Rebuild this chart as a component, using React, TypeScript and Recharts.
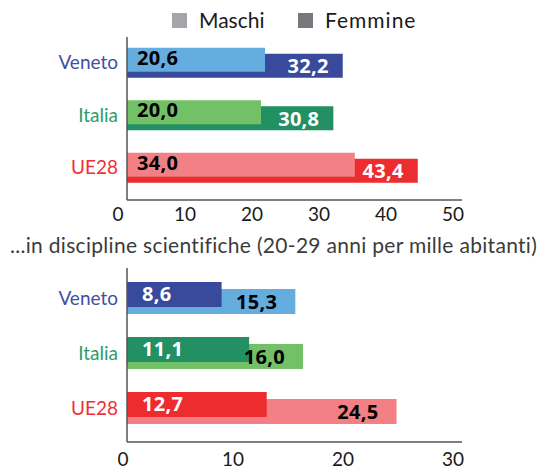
import React from 'react'
import { BarChart, Bar, XAxis, YAxis, Cell, LabelList } from 'recharts'

const categories = ['Veneto', 'Italia', 'UE28']
const legendLabels = ['Maschi', 'Femmine']

// laureati (pannello in alto)
const laureatiMaschi = [20.6, 20.0, 34.0]
const laureatiFemmine = [32.2, 30.8, 43.4]
const laureatiTicks = [0, 10, 20, 30, 40, 50]

// ...in discipline scientifiche (pannello in basso)
const scientificheFemmine = [8.6, 11.1, 12.7]
const scientificheMaschi = [15.3, 16.0, 24.5]
const scientificheTicks = [0, 10, 20, 30]

const titoloScientifiche = '...in discipline scientifiche (20-29 anni per mille abitanti)'

const lightColors = ['#65ADDF', '#72C166', '#F28085']
const darkColors = ['#394A9D', '#229062', '#EC2C2E']
const nameColors = ['#4250A2', '#2E9C6A', '#EE2F35']
const legendColors = ['#A3A5A8', '#78777C']

const axisStyle = { stroke: '#555555', strokeWidth: 1.5 }

const fmt = (v: number) => v.toFixed(1).replace('.', ',')

function CategoryTick (props: any) {
  const { x, y, payload, dy = 0 } = props
  const i = categories.indexOf(payload.value)
  return (
    <text
      x={x}
      y={y + dy}
      textAnchor="end"
      dominantBaseline="central"
      fill={nameColors[i]}
      fontFamily="Lato"
      fontSize={19}
    >
      {payload.value}
    </text>
  )
}

function NumberTick (props: any) {
  const { x, y, payload, shift = 0 } = props
  return (
    <text
      x={x + shift}
      y={y}
      dy="0.71em"
      textAnchor="middle"
      fill="#1a1a1a"
      fontFamily="Lato"
      fontSize={19}
    >
      {payload.value}
    </text>
  )
}

const valueLabel = (side: 'left' | 'right', color: string, offset: number, dy: number) =>
  (props: any) => {
    const x = Number(props.x)
    const y = Number(props.y)
    const w = Number(props.width)
    const h = Number(props.height)
    const tx = side === 'left' ? x + offset : x + w - offset
    return (
      <text
        x={tx}
        y={y + h / 2 + dy}
        textAnchor={side === 'left' ? 'start' : 'end'}
        dominantBaseline="central"
        fill={color}
        fontFamily="Open Sans"
        fontWeight={700}
        fontSize={20}
        letterSpacing={0.3}
      >
        {fmt(Number(props.value))}
      </text>
    )
  }

export default function App () {
  const topData = categories.map((name, i) => ({
    name,
    maschi: laureatiMaschi[i],
    femmine: laureatiFemmine[i]
  }))
  const bottomData = categories.map((name, i) => ({
    name,
    maschi: scientificheMaschi[i],
    femmine: scientificheFemmine[i]
  }))

  return (
    <div style={{ position: 'absolute', left: 0, top: 0, width: 542, height: 470, background: '#fff' }}>
      <div style={{ position: 'absolute', left: 0, top: 0 }}>
        <BarChart
          width={542}
          height={235}
          data={topData}
          layout="vertical"
          margin={{ top: 37, right: 80, bottom: 5, left: 0 }}
        >
          <XAxis
            type="number"
            domain={[0, 50]}
            ticks={laureatiTicks}
            interval={0}
            height={30}
            tickLine={false}
            tickSize={0}
            tickMargin={8}
            axisLine={axisStyle}
            tick={(p: any) => <NumberTick {...p} shift={-9} />}
          />
          <YAxis yAxisId="lo" type="category" dataKey="name" hide width={0} padding={{ top: 2.75, bottom: 2.75 }} />
          <YAxis
            yAxisId="up"
            type="category"
            dataKey="name"
            width={127}
            tickLine={false}
            tickSize={0}
            tickMargin={9}
            axisLine={axisStyle}
            padding={{ top: -3.25, bottom: 8.75 }}
            tick={(p: any) => <CategoryTick {...p} dy={1.5} />}
          />
          <Bar yAxisId="lo" dataKey="femmine" barSize={24} isAnimationActive={false}>
            {topData.map((d, i) => <Cell key={`f-${i}`} fill={darkColors[i]} />)}
            <LabelList dataKey="femmine" content={valueLabel('right', '#ffffff', 14, 0)} />
          </Bar>
          <Bar yAxisId="up" dataKey="maschi" barSize={24} isAnimationActive={false}>
            {topData.map((d, i) => <Cell key={`m-${i}`} fill={lightColors[i]} />)}
            <LabelList dataKey="maschi" content={valueLabel('left', '#000000', 10, -2.5)} />
          </Bar>
        </BarChart>
      </div>

      <div style={{ position: 'absolute', left: 0, top: 225 }}>
        <BarChart
          width={542}
          height={245}
          data={bottomData}
          layout="vertical"
          margin={{ top: 43, right: 80, bottom: 0, left: 0 }}
        >
          <XAxis
            type="number"
            domain={[0, 30.45]}
            ticks={scientificheTicks}
            interval={0}
            height={28}
            tickLine={false}
            tickSize={0}
            tickMargin={11}
            axisLine={axisStyle}
            tick={(p: any) => <NumberTick {...p} shift={-4} />}
          />
          <YAxis yAxisId="lo" type="category" dataKey="name" hide width={0} padding={{ top: 6, bottom: 3 }} />
          <YAxis
            yAxisId="up"
            type="category"
            dataKey="name"
            width={127}
            tickLine={false}
            tickSize={0}
            tickMargin={9}
            axisLine={axisStyle}
            padding={{ top: -1, bottom: 10 }}
            tick={(p: any) => <CategoryTick {...p} dy={2.5} />}
          />
          <Bar yAxisId="lo" dataKey="maschi" barSize={25} isAnimationActive={false}>
            {bottomData.map((d, i) => <Cell key={`m-${i}`} fill={lightColors[i]} />)}
            <LabelList dataKey="maschi" content={valueLabel('right', '#000000', 18, 0)} />
          </Bar>
          <Bar yAxisId="up" dataKey="femmine" barSize={25} isAnimationActive={false}>
            {bottomData.map((d, i) => <Cell key={`f-${i}`} fill={darkColors[i]} />)}
            <LabelList dataKey="femmine" content={valueLabel('left', '#ffffff', 15, -1)} />
          </Bar>
        </BarChart>
      </div>

      {/* legenda */}
      <svg width={542} height={36} style={{ position: 'absolute', left: 0, top: 0 }}>
        <rect x={172} y={13} width={15} height={15} fill={legendColors[0]} />
        <text x={199} y={28} fontFamily="Lato" fontSize={21} fill="#1a1a1a">{legendLabels[0]}</text>
        <rect x={298} y={13} width={15} height={15} fill={legendColors[1]} />
        <text x={325} y={28} fontFamily="Lato" fontSize={21} letterSpacing={1} fill="#1a1a1a">{legendLabels[1]}</text>
      </svg>

      {/* titolo del secondo pannello */}
      <svg width={542} height={40} style={{ position: 'absolute', left: 0, top: 225 }}>
        <text x={10} y={28} fontFamily="Lato" fontSize={21} letterSpacing={0.3} fill="#3b3b3b">{titoloScientifiche}</text>
      </svg>
    </div>
  )
}
